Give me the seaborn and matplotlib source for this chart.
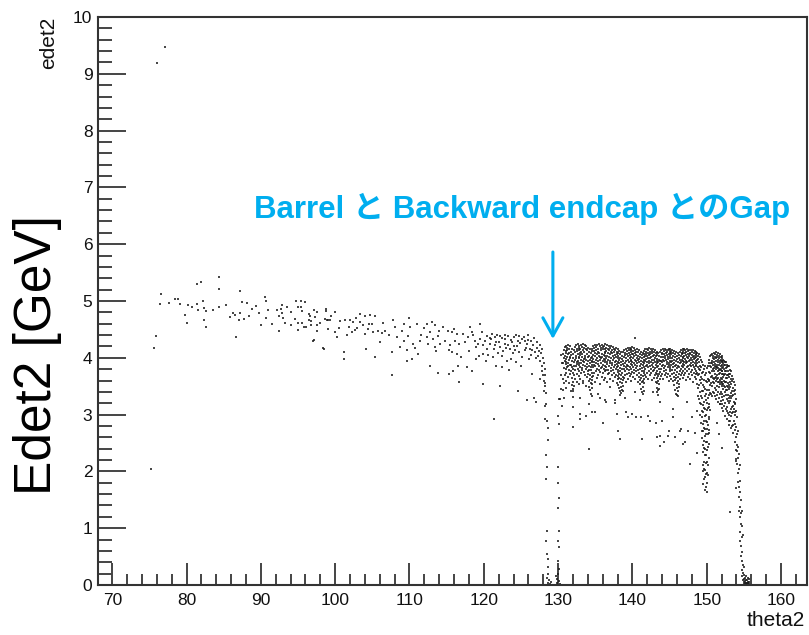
import matplotlib
matplotlib.use("Agg")
import matplotlib.pyplot as plt
import pandas as pd
import seaborn as sns
from matplotlib.ticker import MultipleLocator

# ---------------- data (theta2 [deg], edet2 [GeV]) ----------------
outlier_points = [(75.97, 9.19), (77.05, 9.47), (75.2, 2.05)]

barrel_points = [
    (84.3, 5.42), (84.4, 5.21), (81.4, 5.30), (82.0, 5.33), (76.6, 5.13), (76.4, 4.95), (75.9, 4.39),
    (75.6, 4.17), (77.7, 4.97), (78.4, 5.04), (78.8, 5.04), (79.1, 4.95), (80.2, 4.93), (80.7, 4.90),
    (81.4, 4.95), (81.5, 4.85), (82.2, 5.00), (82.3, 4.87), (82.6, 4.82), (80.1, 4.62), (82.3, 4.66),
    (82.6, 4.54), (84.4, 4.89), (85.3, 4.93), (87.2, 5.17), (86.3, 4.79), (86.5, 4.76), (87.2, 4.79),
    (87.0, 4.66), (87.7, 4.68), (86.7, 4.36), (87.5, 4.98), (88.1, 4.97), (88.4, 4.73), (89.3, 4.91),
    (90.6, 5.07), (90.7, 5.00), (90.0, 4.57), (90.7, 4.70), (91.5, 4.60), (92.2, 4.85), (92.7, 4.86),
    (92.9, 4.93), (93.5, 4.89), (92.8, 4.79), (92.5, 4.73), (92.5, 4.47), (93.2, 4.61), (94.1, 4.58),
    (94.6, 4.69), (94.7, 5.00), (95.4, 5.00), (95.9, 4.99), (95.0, 4.90), (95.4, 4.90), (95.5, 4.82),
    (95.0, 4.61), (95.6, 4.62), (95.0, 4.49), (95.8, 4.54), (96.1, 4.54), (96.5, 4.77), (96.6, 4.74),
    (96.5, 4.66), (96.8, 4.64), (97.1, 4.84), (97.6, 4.80), (96.8, 4.57), (97.6, 4.58), (97.6, 4.47),
    (97.0, 4.30), (97.1, 4.32), (98.3, 4.17), (98.5, 4.16), (98.7, 4.86), (98.7, 4.83), (98.6, 4.69),
    (99.1, 4.67), (99.5, 4.74), (98.9, 4.67), (99.3, 4.66), (100.0, 4.45), (100.2, 4.36), (100.7, 4.64),
    (101.3, 4.66), (102.0, 4.67), (102.4, 4.63), (101.8, 4.54), (102.2, 4.45), (102.7, 4.49), (101.2, 4.11),
    (101.2, 3.98), (103.4, 4.77), (104.0, 4.73), (104.7, 4.76), (105.4, 4.74), (103.3, 4.63), (103.8, 4.57),
    (104.5, 4.60), (104.0, 4.42), (105.1, 4.45), (105.8, 4.47), (106.3, 4.43), (106.7, 4.48), (104.1, 4.16),
    (105.4, 4.01), (107.6, 3.69), (107.8, 4.66), (109.2, 4.60), (110.1, 4.54), (111.0, 4.60), (108.3, 4.36),
    (109.2, 4.30), (109.8, 4.39), (110.5, 4.25), (111.4, 4.30), (107.6, 4.10), (108.7, 4.19), (109.6, 4.13),
    (109.6, 3.95), (110.3, 3.98), (111.2, 4.07), (112.3, 4.60), (113.0, 4.63), (113.4, 4.57), (112.3, 4.36),
    (112.8, 4.45), (113.2, 4.33), (113.9, 4.39), (112.5, 4.25), (113.4, 4.19), (114.1, 4.25), (112.8, 3.86),
    (113.9, 3.74), (114.5, 4.54), (115.2, 4.48), (115.7, 4.45), (116.4, 4.42), (114.8, 4.30), (115.4, 4.22),
    (116.1, 4.30), (116.6, 4.25), (115.3, 4.13), (115.7, 4.10), (116.4, 4.07), (115.3, 3.72), (115.8, 3.77),
    (116.5, 3.86), (116.7, 3.57), (117.2, 4.42), (117.9, 4.36), (118.4, 4.45), (118.8, 4.30), (119.5, 4.33),
    (117.7, 3.83), (118.4, 3.77), (119.5, 4.60), (119.0, 4.19), (119.9, 4.22), (120.4, 4.16), (119.3, 4.04),
    (119.9, 4.07), (119.9, 3.54),
    (120.4, 4.39), (121.1, 4.42), (121.5, 4.36), (122.2, 4.39), (122.8, 4.33), (123.3, 4.39), (124.0, 4.36),
    (124.6, 4.30), (125.1, 4.33), (125.8, 4.25), (126.4, 4.30), (120.8, 4.25), (121.5, 4.22), (122.2, 4.19),
    (122.8, 4.25), (123.5, 4.16), (124.2, 4.13), (124.8, 4.10), (125.5, 4.13), (126.2, 4.16), (126.9, 4.10),
    (121.3, 4.01), (122.4, 4.04), (123.1, 3.95), (123.7, 3.98), (124.4, 3.92), (121.7, 3.86), (122.4, 3.83),
    (122.2, 3.51), (124.6, 3.42), (125.8, 3.25), (126.7, 3.30), (127.0, 3.22), (121.4, 2.92),
    (117.5, 4.28), (118.0, 4.12), (118.6, 4.40), (119.2, 4.25), (119.7, 4.45), (120.1, 4.30), (120.6, 4.05),
    (121.0, 4.33), (121.4, 4.15), (121.8, 4.40), (122.0, 4.28), (122.6, 4.12), (122.9, 4.41), (123.2, 4.22),
    (123.6, 4.31), (123.9, 4.08), (124.3, 4.40), (124.5, 4.20), (124.9, 4.26), (125.2, 4.02), (125.4, 4.36),
    (125.7, 4.18), (126.0, 4.32), (126.3, 4.05), (126.6, 4.22), (126.8, 4.35), (127.1, 4.18), (127.2, 4.28),
    (127.4, 4.12), (127.6, 4.22), (127.7, 4.08), (127.9, 4.16), (120.3, 3.95), (121.9, 4.08), (123.0, 4.18),
    (124.7, 4.38), (125.9, 4.40), (126.1, 3.98), (127.0, 4.00), (125.0, 3.85), (123.4, 3.78), (126.5, 3.72),
    (127.5, 3.62), (119.0, 3.98), (118.2, 4.55), (117.0, 4.02), (116.0, 4.50), (114.0, 4.48), (113.6, 4.12),
    (112.0, 4.52), (111.6, 4.40), (110.8, 4.18), (110.0, 4.70), (109.0, 4.48), (108.0, 4.55), (107.2, 4.40),
    (106.5, 4.62), (106.0, 4.28), (105.0, 4.60), (104.4, 4.50), (103.0, 4.52), (102.8, 4.70), (101.6, 4.40),
    (100.5, 4.52), (100.0, 4.80), (99.0, 4.50), (98.0, 4.62), (97.3, 4.72), (94.0, 4.80), (93.0, 4.70),
    (91.0, 4.85), (89.8, 4.78), (88.8, 4.86), (85.8, 4.72), (83.5, 4.85), (79.8, 4.75),
    (120.9, 4.34), (121.6, 4.27), (122.5, 4.35), (123.8, 4.27), (124.1, 4.21), (125.6, 4.29), (126.5, 4.14),
    (127.3, 4.04), (127.6, 3.95), (127.8, 3.86), (127.9, 3.77), (128.0, 3.69), (128.1, 3.60), (128.2, 3.51),
    (128.1, 3.42), (128.0, 4.00), (128.1, 3.90), (128.2, 3.80), (128.3, 3.70), (128.3, 3.55), (128.4, 3.38),
]

gap_points = [
    (128.2, 3.16), (128.4, 3.19), (128.2, 2.92), (128.5, 2.89), (128.6, 2.77), (128.7, 2.56), (128.4, 2.28),
    (128.5, 2.07), (128.4, 1.87), (128.5, 0.95), (128.4, 0.78), (128.5, 0.54), (128.6, 0.31), (128.5, 0.13),
    (128.7, 0.04), (128.8, 0.08), (128.9, 0.02), (129.0, 0.05), (128.6, 0.20), (128.6, 0.45),
    (130.1, 3.28), (130.0, 2.98), (130.1, 2.84), (130.0, 2.08), (130.1, 1.54), (130.0, 1.36), (130.1, 0.95),
    (130.0, 0.78), (130.1, 0.67), (130.0, 0.42), (130.1, 0.28), (130.0, 0.19), (130.1, 0.07), (129.8, 0.03),
    (129.9, 0.10), (130.2, 0.02), (129.7, 0.15), (130.0, 1.80), (130.3, 3.28), (130.5, 3.16),
    (130.4, 4.05), (130.4, 3.70), (130.4, 3.45), (130.5, 3.90),
]

# dense endcap band: edet2 values read in narrow theta2 columns
endcap_columns = [
    (130.625, [4.06, 3.91, 3.63, 3.44]), (130.75, [4.14, 3.99, 3.82, 3.56, 3.29]),
    (130.875, [4.19, 4.03, 3.95, 3.70]), (131.0, [4.12, 4.08, 3.89, 3.81, 3.60]),
    (131.125, [4.20, 3.98, 3.93, 3.74, 3.47]), (131.25, [4.17, 4.13, 4.01, 3.84]),
    (131.375, [4.23, 4.06, 3.90, 3.86, 3.66]), (131.5, [4.15, 4.09, 3.96, 3.79, 3.55]),
    (131.625, [4.21, 4.02, 3.99, 3.88, 3.71]), (131.75, [4.11, 4.05, 3.87, 3.76, 3.41]),
    (131.875, [4.16, 3.94, 3.83, 3.65, 3.52]), (132.0, [4.07, 4.00, 3.80, 3.74, 3.58, 3.45, 3.31]),
    (132.125, [4.13, 3.92, 3.86, 3.69, 3.50]), (132.25, [4.19, 4.10, 3.97, 3.78, 3.63]),
    (132.375, [4.22, 4.04, 4.00, 3.85]), (132.5, [4.16, 4.12, 3.93, 3.89, 3.72, 3.57]),
    (132.625, [4.24, 4.07, 3.95, 3.81]), (132.75, [4.18, 4.14, 4.02, 3.87, 3.68]),
    (132.875, [4.21, 3.99, 3.91, 3.77, 3.54]), (133.0, [4.15, 4.09, 4.05, 3.84, 3.62]),
    (133.125, [4.23, 4.11, 3.96, 3.90, 3.73]), (133.25, [4.19, 4.06, 4.01, 3.82, 3.79]),
    (133.375, [4.25, 4.13, 3.94, 3.87, 3.60]), (133.5, [4.17, 4.10, 3.98, 3.92, 3.75]),
    (133.625, [4.22, 4.03, 4.00, 3.85, 3.69]), (133.75, [4.20, 4.15, 3.97, 3.80, 3.51]),
    (133.875, [4.14, 4.07, 3.89, 3.83, 3.66]), (134.0, [4.18, 4.02, 3.94, 3.76, 3.71]),
    (134.125, [4.11, 4.04, 3.86, 3.78, 3.59, 3.48]), (134.25, [4.15, 3.97, 3.91, 3.70, 3.62, 3.43]),
    (134.375, [4.08, 3.99, 3.84, 3.79, 3.56, 3.37]), (134.5, [4.12, 3.95, 3.88, 3.67, 3.61, 3.46, 3.33]),
    (134.625, [4.16, 4.01, 3.93, 3.74, 3.53]), (134.75, [4.20, 4.05, 3.98, 3.83, 3.68]),
    (134.875, [4.17, 4.12, 3.92, 3.87, 3.73]), (135.0, [4.23, 4.08, 4.03, 3.85, 3.57]),
    (135.125, [4.19, 4.14, 3.96, 3.90, 3.77]), (135.25, [4.22, 4.06, 4.00, 3.81, 3.64]),
    (135.375, [4.16, 4.11, 3.94, 3.89, 3.70]), (135.5, [4.25, 4.09, 4.04, 3.86, 3.79]),
    (135.625, [4.20, 4.02, 3.97, 3.75, 3.54]), (135.75, [4.17, 4.13, 3.99, 3.91, 3.82]),
    (135.875, [4.23, 4.07, 4.01, 3.84, 3.67]), (136.0, [4.19, 4.15, 3.95, 3.88, 3.73]),
    (136.125, [4.21, 4.05, 3.98, 3.80, 3.61]), (136.25, [4.16, 4.10, 4.03, 3.92, 3.76]),
    (136.375, [4.24, 4.08, 3.96, 3.86, 3.65]), (136.5, [4.18, 4.12, 4.00, 3.83, 3.78]),
    (136.625, [4.22, 4.04, 3.93, 3.89, 3.58]), (136.75, [4.15, 4.09, 3.97, 3.79, 3.71]),
    (136.875, [4.20, 4.13, 4.02, 3.85, 3.74]), (137.0, [4.17, 4.06, 3.94, 3.90, 3.63]),
    (137.125, [4.21, 4.11, 3.99, 3.82, 3.76]), (137.25, [4.14, 4.08, 3.91, 3.87, 3.69]),
    (137.375, [4.19, 4.03, 3.96, 3.78, 3.59]), (137.5, [4.16, 4.10, 4.00, 3.84, 3.73]),
    (137.625, [4.13, 4.05, 3.92, 3.88, 3.66]), (137.75, [4.18, 4.01, 3.95, 3.80, 3.70]),
    (137.875, [4.11, 4.07, 3.89, 3.83, 3.56]), (138.0, [4.15, 3.99, 3.93, 3.75, 3.68]),
    (138.125, [4.09, 4.03, 3.86, 3.79, 3.62, 3.52]), (138.25, [4.12, 3.96, 3.90, 3.71, 3.65, 3.47]),
    (138.375, [4.06, 4.00, 3.82, 3.77, 3.58, 3.41, 3.35]), (138.5, [4.10, 3.93, 3.87, 3.69, 3.63, 3.49, 3.38]),
    (138.625, [4.04, 3.98, 3.80, 3.73, 3.55, 3.44]), (138.75, [4.11, 3.95, 3.89, 3.67, 3.61, 3.50]),
    (138.875, [4.14, 4.02, 3.85, 3.81, 3.64]), (139.0, [4.08, 4.05, 3.91, 3.76, 3.70]),
    (139.125, [4.16, 4.00, 3.94, 3.84, 3.57]), (139.25, [4.12, 4.07, 3.88, 3.80, 3.72]),
    (139.375, [4.17, 4.03, 3.97, 3.86, 3.63]), (139.5, [4.14, 4.09, 3.92, 3.78, 3.74]),
    (139.625, [4.18, 4.05, 3.99, 3.83, 3.68]), (139.75, [4.13, 4.10, 3.95, 3.89, 3.71]),
    (139.875, [4.16, 4.02, 3.96, 3.81, 3.60]), (140.0, [4.19, 4.07, 3.93, 3.87, 3.75]),
    (140.125, [4.12, 4.06, 4.00, 3.84, 3.66]), (140.25, [4.17, 4.04, 3.91, 3.79, 3.73]),
    (140.375, [4.14, 4.09, 3.97, 3.88, 3.62]), (140.5, [4.11, 4.05, 3.94, 3.82, 3.77]),
    (140.625, [4.15, 4.00, 3.90, 3.86, 3.69]), (140.75, [4.10, 4.03, 3.96, 3.78, 3.58]),
    (140.875, [4.13, 3.98, 3.92, 3.74, 3.66]), (141.0, [4.07, 4.02, 3.85, 3.80, 3.61, 3.53]),
    (141.125, [4.11, 3.95, 3.89, 3.70, 3.64, 3.45]), (141.25, [4.05, 3.99, 3.82, 3.76, 3.57, 3.39]),
    (141.375, [4.09, 3.93, 3.87, 3.68, 3.60, 3.48, 3.36]), (141.5, [4.06, 4.01, 3.84, 3.73, 3.55, 3.42]),
    (141.625, [4.12, 3.96, 3.90, 3.77, 3.63]), (141.75, [4.15, 4.04, 3.94, 3.81, 3.70]),
    (141.875, [4.10, 4.07, 3.98, 3.86, 3.67]), (142.0, [4.16, 4.03, 3.92, 3.88, 3.74]),
    (142.125, [4.13, 4.08, 3.99, 3.83, 3.62]), (142.25, [4.17, 4.05, 3.95, 3.90, 3.76]),
    (142.375, [4.11, 4.06, 4.00, 3.85, 3.69]), (142.5, [4.15, 4.02, 3.93, 3.80, 3.73]),
    (142.625, [4.12, 4.09, 3.97, 3.87, 3.61]), (142.75, [4.16, 4.04, 3.91, 3.84, 3.77]),
    (142.875, [4.10, 4.05, 3.96, 3.79, 3.65]), (143.0, [4.14, 3.99, 3.93, 3.82, 3.70]),
    (143.125, [4.08, 4.03, 3.88, 3.74, 3.58]), (143.25, [4.11, 3.95, 3.90, 3.71, 3.64, 3.47]),
    (143.375, [4.05, 3.98, 3.83, 3.77, 3.56, 3.40]), (143.5, [4.09, 3.92, 3.86, 3.68, 3.60, 3.43, 3.34]),
    (143.625, [4.04, 3.97, 3.81, 3.72, 3.53, 3.45]), (143.75, [4.10, 3.94, 3.89, 3.75, 3.62]),
    (143.875, [4.13, 4.01, 3.95, 3.80, 3.68]), (144.0, [4.09, 4.06, 3.92, 3.85, 3.71]),
    (144.125, [4.15, 4.02, 3.97, 3.88, 3.63]), (144.25, [4.12, 4.07, 3.94, 3.82, 3.76]),
    (144.375, [4.16, 4.04, 4.00, 3.86, 3.69]), (144.5, [4.13, 4.08, 3.96, 3.79, 3.74]),
    (144.625, [4.10, 4.05, 3.93, 3.89, 3.66]), (144.75, [4.14, 4.01, 3.98, 3.83, 3.72]),
    (144.875, [4.16, 4.06, 3.91, 3.87, 3.60]), (145.0, [4.12, 4.09, 3.99, 3.84, 3.77]),
    (145.125, [4.15, 4.03, 3.95, 3.81, 3.68]), (145.25, [4.11, 4.06, 3.92, 3.88, 3.63]),
    (145.375, [4.13, 4.00, 3.94, 3.78, 3.71]), (145.5, [4.09, 4.04, 3.89, 3.83, 3.59]),
    (145.625, [4.12, 3.97, 3.91, 3.73, 3.66, 3.52]), (145.75, [4.06, 4.01, 3.85, 3.79, 3.61, 3.44]),
    (145.875, [4.10, 3.94, 3.88, 3.70, 3.64, 3.37]), (146.0, [4.04, 3.98, 3.82, 3.75, 3.55, 3.46]),
    (146.125, [4.08, 3.92, 3.86, 3.67, 3.59, 3.41, 3.32]), (146.25, [4.05, 3.99, 3.83, 3.72, 3.53, 3.48]),
    (146.375, [4.11, 3.96, 3.90, 3.76, 3.62]), (146.5, [4.14, 4.03, 3.93, 3.81, 3.69]),
    (146.625, [4.09, 4.06, 3.97, 3.85, 3.73]), (146.75, [4.15, 4.02, 3.95, 3.89, 3.65]),
    (146.875, [4.12, 4.08, 3.99, 3.83, 3.77]), (147.0, [4.16, 4.04, 3.92, 3.87, 3.70]),
    (147.125, [4.13, 4.09, 3.98, 3.80, 3.74]), (147.25, [4.10, 4.05, 3.95, 3.90, 3.61]),
    (147.375, [4.15, 4.01, 3.93, 3.84, 3.76]), (147.5, [4.12, 4.07, 3.99, 3.86, 3.67]),
    (147.625, [4.14, 4.03, 3.94, 3.81, 3.72]), (147.75, [4.09, 4.06, 3.97, 3.88, 3.63]),
    (147.875, [4.13, 4.00, 3.91, 3.85, 3.75]), (148.0, [4.11, 4.05, 3.96, 3.79, 3.69]),
    (148.125, [4.14, 4.02, 3.93, 3.87, 3.58]), (148.25, [4.08, 4.04, 3.98, 3.83, 3.73]),
    (148.375, [4.12, 3.99, 3.90, 3.80, 3.66]), (148.5, [4.10, 4.05, 3.94, 3.86, 3.71]),
    (148.625, [4.06, 4.01, 3.88, 3.77, 3.62]), (148.75, [4.09, 3.96, 3.91, 3.73, 3.54]),
    (148.875, [4.04, 3.98, 3.84, 3.69, 3.47, 3.33]), (149.0, [4.07, 3.93, 3.80, 3.71, 3.52, 3.28]),
    (149.125, [4.01, 3.86, 3.79, 3.61, 3.39, 3.21, 2.99]),
    (149.25, [3.96, 3.84, 3.66, 3.55, 3.33, 3.18, 2.86]),
    (149.375, [3.93, 3.74, 3.63, 3.42, 3.30, 3.07, 2.95, 2.71, 2.58]),
    (149.5, [3.88, 3.75, 3.52, 3.41, 3.17, 3.05, 2.83, 2.71, 2.47, 2.35, 2.12, 2.01, 1.77]),
    (149.625, [3.81, 3.61, 3.48, 3.23, 3.12, 2.88, 2.77, 2.53, 2.41, 2.17, 2.05, 1.86]),
    (149.75, [3.86, 3.69, 3.45, 3.33, 3.09, 2.97, 2.74, 2.63, 2.39, 2.28, 2.03, 1.91, 1.68]),
    (149.875, [3.74, 3.59, 3.36, 3.25, 3.00, 2.89, 2.65, 2.52, 2.29, 2.14, 1.95, 1.73]),
    (150.0, [3.82, 3.57, 3.44, 3.21, 3.08, 2.87, 2.75, 2.51, 2.38, 2.16, 1.98, 1.79, 1.64]),
    (150.125, [3.85, 3.62, 3.30, 3.11, 2.82, 2.66, 2.43, 2.12, 1.93]),
    (150.25, [3.90, 3.61, 3.43, 3.14, 2.95, 2.67, 2.48, 2.23]),
    (150.375, [3.97, 3.75, 3.60, 3.35, 3.19, 2.92, 2.73]),
    (150.5, [4.03, 3.86, 3.74, 3.52, 3.38, 3.08]),
    (150.625, [4.05, 3.91, 3.83, 3.66, 3.56, 3.36]),
    (150.75, [4.07, 3.95, 3.90, 3.76, 3.68, 3.50, 3.33]),
    (150.875, [4.04, 4.00, 3.87, 3.81, 3.65, 3.57, 3.39]),
    (151.0, [4.09, 3.98, 3.93, 3.82, 3.77, 3.63, 3.56, 3.38]),
    (151.125, [4.06, 4.02, 3.89, 3.85, 3.71, 3.64, 3.47, 3.33]),
    (151.25, [4.10, 3.99, 3.95, 3.83, 3.80, 3.67, 3.60, 3.43, 3.28]),
    (151.375, [4.05, 4.01, 3.88, 3.84, 3.70, 3.63, 3.51, 3.34]),
    (151.5, [4.08, 3.97, 3.93, 3.82, 3.77, 3.64, 3.57, 3.40, 3.23]),
    (151.625, [4.03, 3.99, 3.87, 3.79, 3.72, 3.57, 3.48, 3.29]),
    (151.75, [4.06, 3.95, 3.91, 3.80, 3.74, 3.61, 3.54, 3.36, 3.18]),
    (151.875, [4.01, 3.97, 3.85, 3.78, 3.64, 3.58, 3.40, 3.24]),
    (152.0, [4.04, 3.93, 3.88, 3.76, 3.71, 3.58, 3.50, 3.31, 3.12]),
    (152.125, [3.99, 3.95, 3.82, 3.77, 3.62, 3.54, 3.36, 3.19]),
    (152.25, [3.97, 3.91, 3.84, 3.72, 3.67, 3.53, 3.45, 3.26, 3.06]),
    (152.375, [3.95, 3.87, 3.81, 3.69, 3.59, 3.51, 3.33, 3.15]),
    (152.5, [3.92, 3.88, 3.76, 3.71, 3.58, 3.48, 3.40, 3.20, 2.98]),
    (152.625, [3.93, 3.82, 3.77, 3.64, 3.58, 3.43, 3.34, 3.10]),
    (152.75, [3.88, 3.83, 3.70, 3.65, 3.51, 3.44, 3.28, 3.13, 2.93]),
    (152.875, [3.86, 3.76, 3.70, 3.56, 3.49, 3.34, 3.24, 3.03]),
    (153.0, [3.85, 3.72, 3.66, 3.52, 3.45, 3.30, 3.20, 3.00, 2.82]),
    (153.125, [3.79, 3.71, 3.57, 3.49, 3.33, 3.24, 3.05, 2.88]),
    (153.25, [3.77, 3.62, 3.54, 3.38, 3.29, 3.10, 2.98, 2.76]),
    (153.375, [3.68, 3.59, 3.42, 3.33, 3.14, 3.02, 2.80]),
    (153.5, [3.63, 3.46, 3.35, 3.16, 3.04, 2.82, 2.67]),
    (153.625, [3.57, 3.41, 3.22, 3.09, 2.88]),
    (153.75, [3.52, 3.36, 3.18, 3.04, 2.83]),
    (153.875, [3.44, 3.21, 2.99, 2.73, 2.51]),
    (154.0, [3.28, 3.07, 2.78, 2.60, 2.38, 2.21]),
    (154.125, [2.95, 2.66, 2.47, 2.13]),
    (154.25, [2.72, 2.43, 2.24, 1.98, 1.81]),
    (154.375, [2.30, 2.05, 1.72, 1.55, 1.31]),
    (154.5, [2.12, 1.83, 1.64, 1.38, 1.19, 0.94, 0.77]),
    (154.625, [1.49, 1.27, 1.08, 0.69, 0.51]),
    (154.75, [1.31, 1.03, 0.84, 0.58, 0.43, 0.27, 0.16]),
    (154.875, [0.88, 0.36, 0.21, 0.09]),
    (155.0, [0.31, 0.17, 0.11, 0.05, 0.02]),
    (155.125, [0.13, 0.07, 0.03]),
    (155.25, [0.15, 0.08, 0.04, 0.02]),
    (155.375, [0.09, 0.04]),
    (155.5, [0.12, 0.06, 0.03, 0.01]),
    (155.75, [0.10, 0.05, 0.02]),
]

endcap_scatter = [
    (132.0, 3.13), (132.9, 3.01), (134.1, 2.39), (132.0, 2.78), (134.1, 3.19), (135.6, 3.30), (137.9, 3.01),
    (139.2, 3.04), (138.3, 2.57), (140.5, 2.95), (141.3, 2.57), (142.1, 2.98), (143.3, 2.60), (144.2, 2.51),
    (143.7, 3.22), (145.5, 3.10), (146.6, 2.75), (147.1, 2.51), (147.8, 2.13), (148.0, 2.95), (153.1, 1.28),
    (132.9, 2.92), (133.8, 2.98), (135.0, 3.04), (136.5, 3.22), (137.6, 3.25), (138.1, 2.72), (139.4, 2.95),
    (141.0, 3.25), (142.4, 2.89), (143.7, 2.63), (144.0, 2.89), (144.8, 2.63), (145.5, 2.95), (146.4, 2.72),
    (146.8, 2.48), (147.3, 3.22), (148.7, 3.07), (148.7, 2.33), (138.7, 3.42), (140.3, 3.39), (135.4, 3.36),
    (132.0, 3.42), (132.9, 3.30), (140.3, 4.35), (136.3, 3.25), (143.7, 2.45), (151.6, 2.66), (152.0, 2.42),
    (151.4, 2.86), (153.0, 2.89), (151.8, 3.19), (152.8, 3.07), (154.0, 2.19), (153.9, 1.70), (154.1, 2.36),
    (137.6, 3.20), (140.0, 3.01), (141.2, 2.95), (143.2, 2.85), (144.9, 2.72), (145.8, 2.60), (147.5, 2.72),
    (148.4, 2.68), (146.0, 3.35), (139.0, 3.30), (142.8, 3.40), (137.0, 3.48), (134.5, 3.05), (136.0, 2.85),
    (133.3, 3.55),
]

x_ticks = [70, 80, 90, 100, 110, 120, 130, 140, 150, 160]
y_ticks = [0, 1, 2, 3, 4, 5, 6, 7, 8, 9, 10]
annotation_text = "Barrel と Backward endcap とのGap"

# ---------------- assemble ----------------
rows = list(barrel_points) + list(gap_points) + list(endcap_scatter) + list(outlier_points)
for theta, edets in endcap_columns:
    rows += [(theta, e) for e in edets]
df = pd.DataFrame(rows, columns=["theta2", "edet2"])

sns.set_style("white")
plt.rcParams["font.family"] = ["Liberation Sans", "Noto Sans CJK JP", "DejaVu Sans"]

W, H = 809, 635
fig = plt.figure(figsize=(W / 100, H / 100), dpi=100)
ax = fig.add_axes([98 / W, (H - 585) / H, (807 - 98) / W, (585 - 17) / H])

sns.scatterplot(data=df, x="theta2", y="edet2", ax=ax, marker="s", s=2.2,
                linewidth=0, color="#1a1a1a", alpha=0.8, legend=False)

ax.set_xlim(68.08, 163.5)
ax.set_ylim(0, 10)
ax.set_xticks(x_ticks)
ax.set_yticks(y_ticks)
ax.xaxis.set_minor_locator(MultipleLocator(2))
ax.yaxis.set_minor_locator(MultipleLocator(0.2))
ax.set_xlabel("")
ax.set_ylabel("")

ax.tick_params(axis="both", which="both", direction="in", bottom=True, left=True, top=False, right=False,
               color="#444444", width=1.4, labelsize=12.5, labelcolor="#111111")
ax.tick_params(axis="x", which="major", length=16, pad=6)
ax.tick_params(axis="x", which="minor", length=8)
ax.tick_params(axis="y", which="major", length=20, pad=4)
ax.tick_params(axis="y", which="minor", length=10)
for sp in ax.spines.values():
    sp.set_visible(True)
    sp.set_color("#333333")
    sp.set_linewidth(1.5)

fig.text(49 / W, 1 - 17 / H, "edet2", rotation=90, ha="center", va="top", fontsize=15, color="#111111")
fig.text(805 / W, 1 - 620 / H, "theta2", ha="right", va="center", fontsize=15, color="#111111")
fig.text(38 / W, 1 - 355 / H, "Edet2 [GeV]", rotation=90, ha="center", va="center", fontsize=37, color="black")

fig.text(522 / W, 1 - 217.5 / H, annotation_text, ha="center", va="baseline",
         fontsize=22.5, fontweight="bold", color="#00AEEF",
         family=["Liberation Sans", "Noto Sans CJK JP"])

ax.annotate("", xy=(129.3, (584 - 338) / 56.8), xytext=(129.3, (584 - 251) / 56.8),
            arrowprops=dict(arrowstyle="->,head_length=0.65,head_width=0.36", mutation_scale=20,
                            color="#00AEEF", lw=2.2, shrinkA=0, shrinkB=0))

fig.savefig("out.png", dpi=100, facecolor="white")
